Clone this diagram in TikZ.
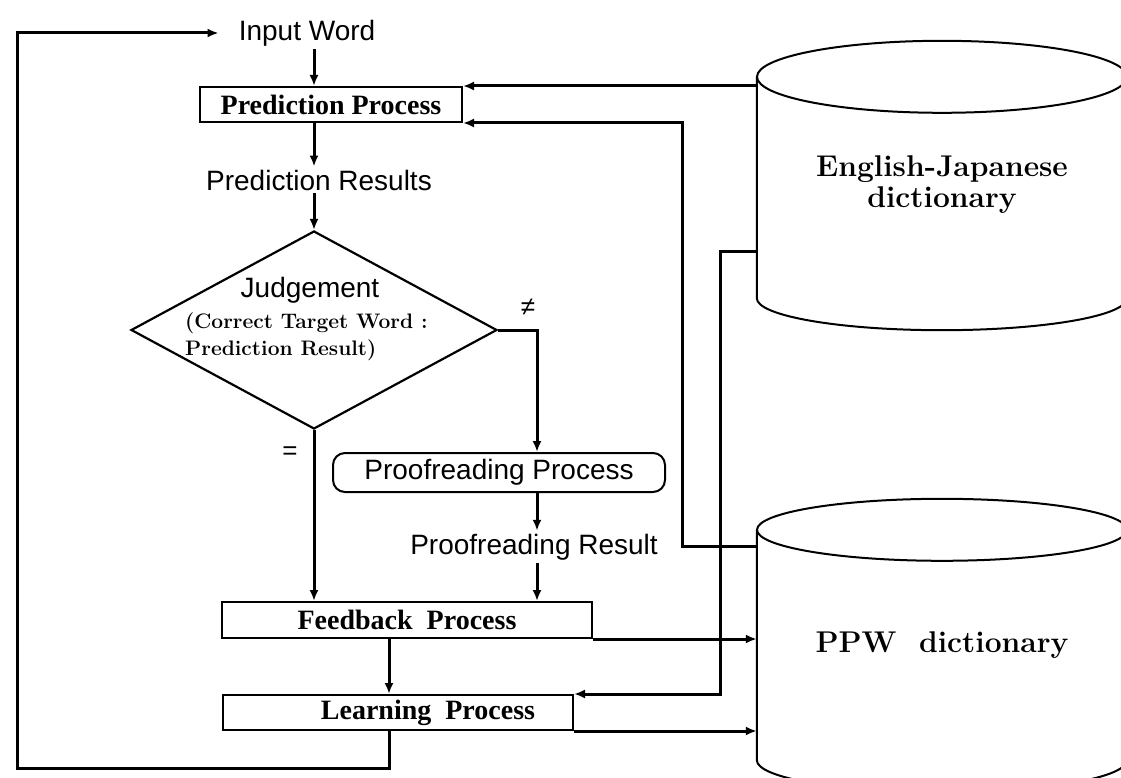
\documentclass[tikz,border=0pt]{standalone}
\usepackage{fontspec}
\newfontfamily\labelfont{Liberation Sans}
\newfontfamily\boxfont{Liberation Serif}
\usetikzlibrary{arrows.meta, shapes.geometric, positioning, calc}
\tikzset{
  procbox/.style={
    rectangle, draw, line width=2pt, inner sep=2pt,
    minimum height=35pt, text centered,
    font=\boxfont\bfseries\fontsize{28}{30}\selectfont
  },
  flowlabel/.style={inner sep=3pt, font=\labelfont\fontsize{28}{30}\selectfont},
  dbbody/.style={
    inner sep=0pt, minimum width=370pt, align=center,
    font=\bfseries\fontsize{30}{31}\selectfont
  },
  flowarrow/.style={-{Latex[length=11pt,width=9pt]}, line width=3pt},
  dbline/.style={line width=2pt},
}

\begin{document}
\begin{tikzpicture}[x=1pt, y=-1pt]
    \clip (0,0) rectangle (1121,778);
    \coordinate (col)  at (314,0);
    \coordinate (pcol) at (537,0);
    \coordinate (fcol) at (389,0);
    \coordinate (vx)   at (682,0);
    \coordinate (vx2)  at (720,0);
    \coordinate (loop) at (17,768);

    \node[flowlabel] (input) at (307,33) {Input Word};
    \node[procbox, minimum width=262pt] (pred) at (331,104.5) {Prediction Process};
    \node[flowlabel] (predres) at (319,180) {Prediction Results};
    \node[diamond, draw, line width=2.2pt, minimum width=366pt, minimum height=198pt, inner sep=0pt] (judge) at (314,330) {};
    \node[flowlabel] (judgetitle) at (310,290) {Judgement};
    \node[anchor=west, inner sep=0pt, align=left, font=\bfseries\fontsize{21}{27}\selectfont] (judgetext) at (185,337) {(Correct Target Word :\\Prediction Result)};
    \node[procbox, rounded corners=12pt, minimum width=332pt, minimum height=39pt, font=\labelfont\fontsize{28}{30}\selectfont] (proof) at (499,472.5) {Proofreading Process};
    \node[flowlabel] (proofres) at (534,547) {Proofreading Result};
    \node[procbox, minimum width=370pt, minimum height=36pt] (feed) at (407,620) {Feedback\ \ Process};
    \node[procbox, minimum width=350pt] (learn) at (398,712.5) {\hspace*{60pt}Learning\ \ Process};

    \node[dbbody, minimum height=221pt] (ej) at (942,187.5) {English-Japanese\\dictionary\\[-20pt]};
    \node[dbbody, minimum height=230pt] (ppw) at (942,645) {PPW\ \ dictionary};
    \draw[dbline] (ej.north) ellipse [x radius=185, y radius=36];
    \draw[dbline] (ej.north west) -- (ej.south west) arc [start angle=180, end angle=0, x radius=185, y radius=32];
    \draw[dbline] (ppw.north) ellipse [x radius=185, y radius=31];
    \draw[dbline] (ppw.north west) -- (ppw.south west) arc [start angle=180, end angle=0, x radius=185, y radius=32];

    \node[font=\labelfont\fontsize{26}{26}\selectfont] (neq) at (528,307) {≠};
    \node[font=\labelfont\fontsize{26}{26}\selectfont] (eq) at (290,453) {=};

    \draw[flowarrow] (col |- input.south) -- (col |- pred.north);
    \draw[flowarrow] (col |- pred.south) -- (col |- predres.north);
    \draw[flowarrow] (col |- predres.south) -- (judge.north);
    \draw[flowarrow] (judge.east) -| (pcol |- proof.north);
    \draw[flowarrow] (judge.south) -- (judge.south |- feed.north);
    \draw[flowarrow] (pcol |- proof.south) -- (pcol |- proofres.north);
    \draw[flowarrow] (pcol |- proofres.south) -- (pcol |- feed.north);
    \draw[flowarrow] (fcol |- feed.south) -- (fcol |- learn.north);
    \draw[flowarrow] (fcol |- learn.south) |- (loop) |- ([xshift=-17pt]input.west);
    \draw[flowarrow] (feed.south east) -- (feed.south east -| ppw.west);
    \draw[flowarrow] (learn.south east) -- (learn.south east -| ppw.west);
    \draw[flowarrow] (ej.west |- pred.north east) -- (pred.north east);
    \draw[flowarrow] ($(ppw.north west)+(0,17)$) -| (vx |- pred.south east) -- (pred.south east);
    \draw[flowarrow] ($(ej.north west)+(0,175)$) -| (vx2 |- learn.north east) -- (learn.north east);
\end{tikzpicture}
\end{document}
